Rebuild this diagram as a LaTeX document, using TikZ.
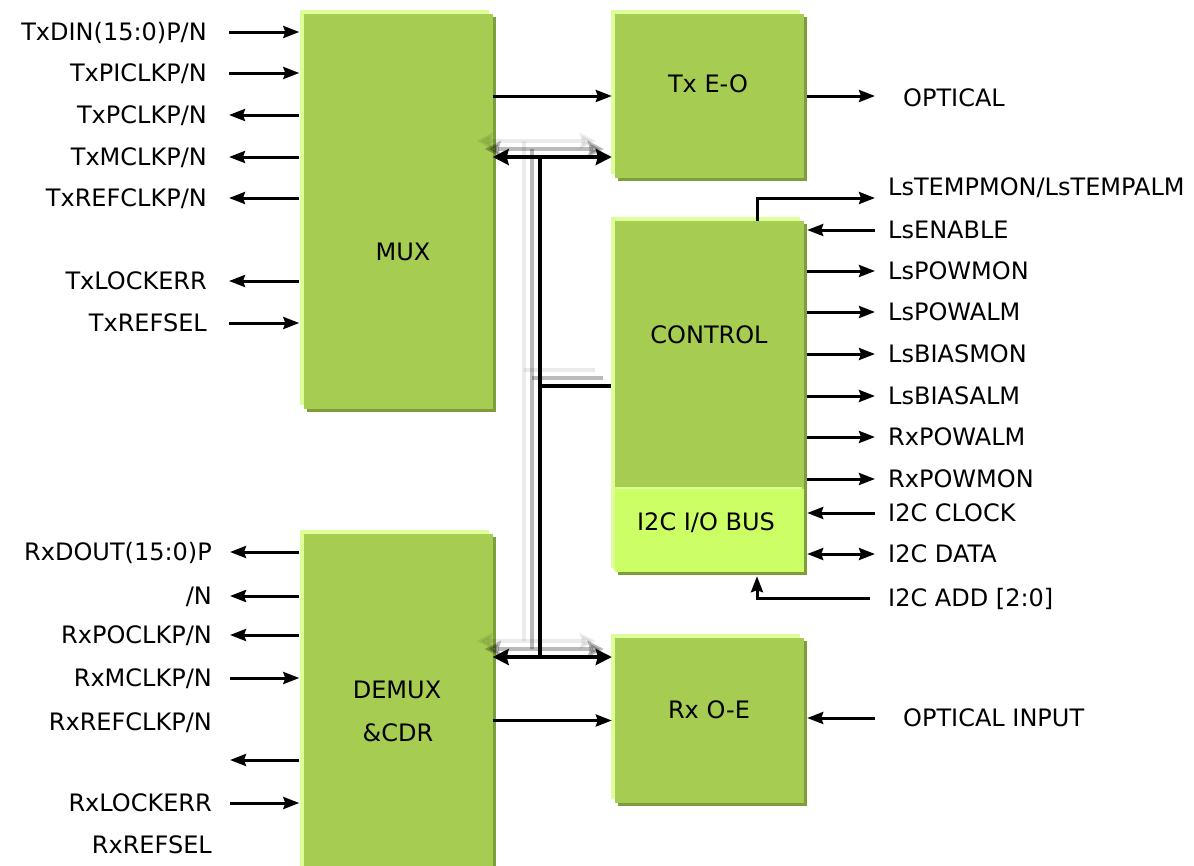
\documentclass[tikz,border=0pt]{standalone}
\usepackage{fontspec}
\setmainfont{DejaVu Sans}
\usepackage{tikz}
\usetikzlibrary{positioning,shadows,arrows.meta}

\definecolor{verde}{HTML}{A6CC52}
\definecolor{verdechiaro}{HTML}{CCFF66}
\definecolor{luce}{HTML}{DDFF99}
\definecolor{ombra}{HTML}{7E9E3C}

\begin{document}
\begin{tikzpicture}[x=1pt, y=-1pt,
        every node/.style={font=\fontsize{24}{28}\selectfont, text height=17.5pt, text depth=0pt, inner sep=0pt},
        blocco/.style={fill=verde, minimum width=189pt,
            general shadow={fill=luce, shadow xshift=-4pt, shadow yshift=4pt},
            general shadow={fill=ombra, shadow xshift=3pt, shadow yshift=-3pt}},
        sx/.style={anchor=east},
        dx/.style={anchor=west},
        sig/.style={line width=3pt, -{Stealth[length=16pt,width=12pt,inset=2pt]}},
        sigdoppio/.style={line width=3pt, {Stealth[length=16pt,width=12pt,inset=2pt]}-{Stealth[length=16pt,width=12pt,inset=2pt]}},
        busline/.style={line width=4pt},
        busarrow/.style={busline, {Stealth[length=16pt,width=16pt,inset=2pt]}-{Stealth[length=16pt,width=16pt,inset=2pt]}}]

        \useasboundingbox (0,0) rectangle (1194,865);

        % Blocchi
        \node[blocco, minimum height=395pt] (mux) at (398,211.5) {};
        \node[blocco, minimum height=346pt] (demux) at (398,707) {};
        \node[blocco, minimum height=164pt] (txeo) at (709.5,96) {};
        \node[blocco, minimum height=351pt] (control) at (709.5,396.5) {};
        \node[fill=verdechiaro, minimum width=189pt, minimum height=83pt,
            general shadow={fill=luce, shadow xshift=-2pt, shadow yshift=2pt}] (i2c) at (709.5,530.5) {};
        \node[blocco, minimum height=165pt] (rxoe) at (709.5,720.5) {};

        % Etichette dei blocchi
        \node (muxlbl) at (403,252) {MUX};
        \node (txeolbl) at (708,84) {Tx E-O};
        \node (ctrllbl) at (709,335) {CONTROL};
        \node (i2clbl) at (706,522) {I2C I/O BUS};
        \node (demuxlbl) at (397,690) {DEMUX};
        \node (cdrlbl) at (398,733) {\&CDR};
        \node (rxoelbl) at (709,710) {Rx O-E};

        % Segnali a sinistra (MUX)
        \node[sx] (txdin) at (207,32) {TxDIN(15:0)P/N};
        \node[sx] (txpiclk) at (207,73) {TxPICLKP/N};
        \node[sx] (txpclk) at (207,115) {TxPCLKP/N};
        \node[sx] (txmclk) at (207,157) {TxMCLKP/N};
        \node[sx] (txrefclk) at (207,198) {TxREFCLKP/N};
        \node[sx] (txlockerr) at (207,281) {TxLOCKERR};
        \node[sx] (txrefsel) at (207,323) {TxREFSEL};

        \draw[sig] ([xshift=22pt]txdin.east) -- ([xshift=-4pt]mux.west |- txdin.east);
        \draw[sig] ([xshift=22pt]txpiclk.east) -- ([xshift=-4pt]mux.west |- txpiclk.east);
        \draw[sig] ([xshift=-4pt]mux.west |- txpclk.east) -- ([xshift=22pt]txpclk.east);
        \draw[sig] ([xshift=-4pt]mux.west |- txmclk.east) -- ([xshift=22pt]txmclk.east);
        \draw[sig] ([xshift=-4pt]mux.west |- txrefclk.east) -- ([xshift=22pt]txrefclk.east);
        \draw[sig] ([xshift=-4pt]mux.west |- txlockerr.east) -- ([xshift=22pt]txlockerr.east);
        \draw[sig] ([xshift=22pt]txrefsel.east) -- ([xshift=-4pt]mux.west |- txrefsel.east);

        % Segnali a sinistra (DEMUX)
        \node[sx] (rxdout) at (212,552) {RxDOUT(15:0)P};
        \node[sx] (rxdoutn) at (212,596) {/N};
        \node[sx] (rxpoclk) at (212,635) {RxPOCLKP/N};
        \node[sx] (rxmclk) at (212,678) {RxMCLKP/N};
        \node[sx] (rxrefclk) at (212,722) {RxREFCLKP/N};
        \coordinate (rxvuoto) at (212,760);
        \node[sx] (rxlockerr) at (212,803) {RxLOCKERR};
        \node[sx] (rxrefsel) at (212,845) {RxREFSEL};

        \draw[sig] ([xshift=-4pt]demux.west |- rxdout.east) -- ([xshift=18pt]rxdout.east);
        \draw[sig] ([xshift=-4pt]demux.west |- rxdoutn.east) -- ([xshift=18pt]rxdoutn.east);
        \draw[sig] ([xshift=-4pt]demux.west |- rxpoclk.east) -- ([xshift=18pt]rxpoclk.east);
        \draw[sig] ([xshift=18pt]rxmclk.east) -- ([xshift=-4pt]demux.west |- rxmclk.east);
        \draw[sig] ([xshift=-4pt]demux.west |- rxvuoto) -- ([xshift=18pt]rxvuoto);
        \draw[sig] ([xshift=18pt]rxlockerr.east) -- ([xshift=-4pt]demux.west |- rxlockerr.east);

        % Percorso ottico
        \node[dx] (optical) at (903,98) {OPTICAL};
        \node[dx] (opticalin) at (903,718) {OPTICAL INPUT};

        \draw[sig] (mux.east |- txeo.west) -- ([xshift=-3pt]txeo.west);
        \draw[sig] ([xshift=3pt]txeo.east) -- ([xshift=-28pt]optical.west |- txeo.east);
        \draw[sig] (demux.east |- rxoe.west) -- ([xshift=-3pt]rxoe.west);
        \draw[sig] ([xshift=-28pt]opticalin.west) -- ([xshift=3pt]rxoe.east |- opticalin.west);

        % Segnali a destra (CONTROL)
        \node[dx] (lstemp) at (888,187) {LsTEMPMON/LsTEMPALM};
        \node[dx] (lsenable) at (888,230) {LsENABLE};
        \node[dx] (lspowmon) at (888,271) {LsPOWMON};
        \node[dx] (lspowalm) at (888,312) {LsPOWALM};
        \node[dx] (lsbiasmon) at (888,354) {LsBIASMON};
        \node[dx] (lsbiasalm) at (888,396) {LsBIASALM};
        \node[dx] (rxpowalm) at (888,437) {RxPOWALM};
        \node[dx] (rxpowmon) at (888,479) {RxPOWMON};
        \node[dx] (i2cclock) at (888,513) {I2C CLOCK};
        \node[dx] (i2cdata) at (888,554) {I2C DATA};
        \node[dx] (i2cadd) at (888,598) {I2C ADD [2:0]};
        \coordinate (tempfine) at (875,198);

        \draw[sig] ([xshift=47.5pt]control.north) |- (tempfine);
        \draw[sig] ([xshift=-13pt]lsenable.west) -- ([xshift=3pt]control.east |- lsenable.west);
        \draw[sig] ([xshift=3pt]control.east |- lspowmon.west) -- ([xshift=-13pt]lspowmon.west);
        \draw[sig] ([xshift=3pt]control.east |- lspowalm.west) -- ([xshift=-13pt]lspowalm.west);
        \draw[sig] ([xshift=3pt]control.east |- lsbiasmon.west) -- ([xshift=-13pt]lsbiasmon.west);
        \draw[sig] ([xshift=3pt]control.east |- lsbiasalm.west) -- ([xshift=-13pt]lsbiasalm.west);
        \draw[sig] ([xshift=3pt]control.east |- rxpowalm.west) -- ([xshift=-13pt]rxpowalm.west);
        \draw[sig] ([xshift=3pt]control.east |- rxpowmon.west) -- ([xshift=-13pt]rxpowmon.west);
        \draw[sig] ([xshift=-13pt]i2cclock.west) -- ([xshift=3pt]i2c.east |- i2cclock.west);
        \draw[sigdoppio] ([xshift=3pt]i2c.east |- i2cdata.west) -- ([xshift=-13pt]i2cdata.west);
        \draw[sig] ([xshift=-18pt]i2cadd.west) -| ([xshift=47.5pt,yshift=-4pt]i2c.south);

        % Bus interno (con le ombre)
        \coordinate (bustop) at (540,157);
        \coordinate (busmid) at (540,386);
        \coordinate (busbot) at (540,657);
        \foreach \s/\o in {16/0.08, 8/0.27, 0/1} {
            \begin{scope}[transform canvas={shift={(-\s pt,\s pt)}}, opacity=\o]
                \draw[busline] (bustop) -- (busbot);
                \draw[busarrow] (mux.east |- bustop) -- ([xshift=-3pt]txeo.west |- bustop);
                \draw[busline] (busmid) -- ([xshift=-4pt]control.west |- busmid);
                \draw[busarrow] (demux.east |- busbot) -- ([xshift=-3pt]rxoe.west |- busbot);
            \end{scope}
        }
    \end{tikzpicture}
\end{document}
